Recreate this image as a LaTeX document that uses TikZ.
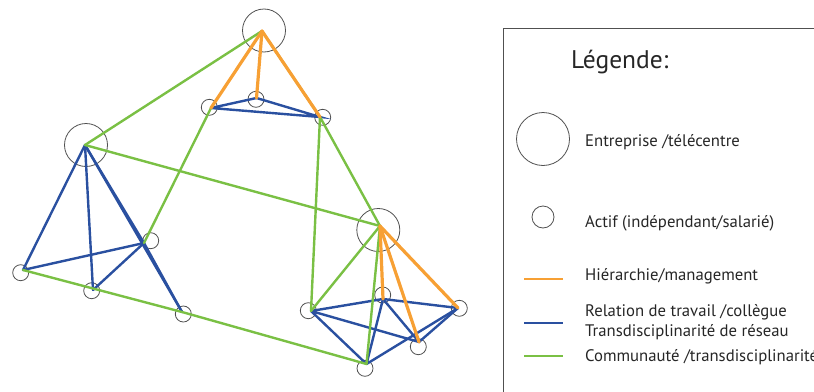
\documentclass[tikz,border=0pt]{standalone}
\usepackage{fontspec}
\setmainfont{PT Sans}
\definecolor{orng}{RGB}{247,160,52}
\definecolor{blu}{RGB}{42,80,160}
\definecolor{grn}{RGB}{122,192,68}
\definecolor{circ}{RGB}{80,80,80}
\begin{document}
\begin{tikzpicture}[x=1pt,y=-1pt,
  big/.style={circle,draw=circ,line width=0.8pt,minimum size=43pt,inner sep=0pt},
  small/.style={circle,draw=circ,line width=0.8pt,minimum size=16pt,inner sep=0pt},
  hier/.style={draw=orng,line width=3.2pt,line cap=round},
  work/.style={draw=blu,line width=2.4pt,line cap=round},
  comm/.style={draw=grn,line width=2.4pt,line cap=round},
  lab/.style={anchor=base west,inner sep=0pt,font=\fontsize{16.7}{19}\selectfont,text=black!85}]
\useasboundingbox (0,0) rectangle (814,391);
% top cluster
\node[big] (T) at (264,30.5) {};   \coordinate (t) at (262,31);
\node[small] (T1) at (209.3,107.3) {}; \coordinate (t1) at (211,108);
\node[small] (T2) at (256,99.3) {};    \coordinate (t2) at (256.5,98);
\node[small] (T3) at (322.7,117.3) {}; \coordinate (t3) at (320,117);
% left cluster
\node[big] (L) at (86,145) {};  \coordinate (l) at (85,145);
\node[small] (L1) at (20.7,272.7) {}; \coordinate (l1) at (23,270);
\node[small] (L2) at (91.7,290.7) {}; \coordinate (l2) at (93,290);
\node[small] (L3) at (150.7,240.7) {}; \coordinate (l3) at (144,243);
\node[small] (L4) at (183.3,314) {}; \coordinate (l4) at (182,312);
% right cluster
\node[big] (R) at (378.3,230) {}; \coordinate (r) at (380,226);
\node[small] (R1) at (308.3,310.7) {}; \coordinate (r1) at (311,311);
\node[small] (R2) at (382.7,295) {};   \coordinate (r2) at (383,299);
\node[small] (R3) at (459.3,308.3) {}; \coordinate (r3) at (458,308);
\node[small] (R4) at (418.3,346.7) {}; \coordinate (r4) at (419,342);
\node[small] (R5) at (365,368.3) {};   \coordinate (r5) at (366.5,364);
% blue
\draw[work] (t1) -- (t2) -- (t3) -- (t1);
\draw[work] (l) -- (l1); \draw[work] (l) -- (l2); \draw[work] (l) -- (l3);
\draw[work] (l) -- (l4); \draw[work] (l3) -- (l4); \draw[work] (l3) -- (l1);
\draw[work] (l3) -- (l2);
\draw[work] (r1) -- (r2) -- (r3);
\draw[work] (r1) -- (r4); \draw[work] (r1) -- (r5); \draw[work] (r2) -- (r5);
\draw[work] (r2) -- (r4); \draw[work] (r3) -- (r4); \draw[work] (r5) -- (r3);
% green
\draw[comm] (t) -- (l);
\draw[comm] (t) -- (t3) -- (r);
\draw[comm] (t3) -- (r1);
\draw[comm] (t1) -- (l3);
\draw[comm] (l) -- (r);
\draw[comm] (l1) -- (l4) -- (r5);
\draw[comm] (r) -- (r1);
\draw[comm] (r) -- (r5);
% orange
\draw[hier] (t) -- (t1); \draw[hier] (t) -- (t2); \draw[hier] (t) -- (t3);
\draw[hier] (r) -- (r2); \draw[hier] (r) -- (r4); \draw[hier] (r) -- (r3);
% legend
\node[draw=circ,line width=1pt,minimum width=330pt,minimum height=380pt,anchor=north west,inner sep=0pt] (box) at (503,28) {};
\node[anchor=base west,inner sep=0pt,font=\fontsize{25.5}{28}\selectfont,text=black!85] (title) at (571,68.3) {Légende:};
\node[circle,draw=circ,line width=0.8pt,minimum size=53pt,inner sep=0pt] (kbig) at (543,139) {};
\node[lab] (tbig) at (585,146) {Entreprise /télécentre};
\node[circle,draw=circ,line width=0.8pt,minimum size=22pt,inner sep=0pt] (ksmall) at (543,217) {};
\node[lab] (tsmall) at (585,227) {Actif (indépendant/salarié)};
\coordinate (o1) at (524,279); \coordinate (o2) at (563,279);
\draw[draw=orng,line width=2pt] (o1) -- (o2);
\node[lab] (thier) at (585,280) {Hiérarchie/management};
\coordinate (b1) at (524,323); \coordinate (b2) at (563,323);
\draw[draw=blu,line width=2pt] (b1) -- (b2);
\node[lab] (twork1) at (585,316.7) {Relation de travail /collègue};
\node[lab] (twork2) at (585,336.7) {Transdisciplinarité de réseau};
\coordinate (g1) at (524,356); \coordinate (g2) at (563,356);
\draw[draw=grn,line width=2pt] (g1) -- (g2);
\node[lab] (tcomm) at (585,361.7) {Communauté /transdisciplinarité};
\end{tikzpicture}
\end{document}
